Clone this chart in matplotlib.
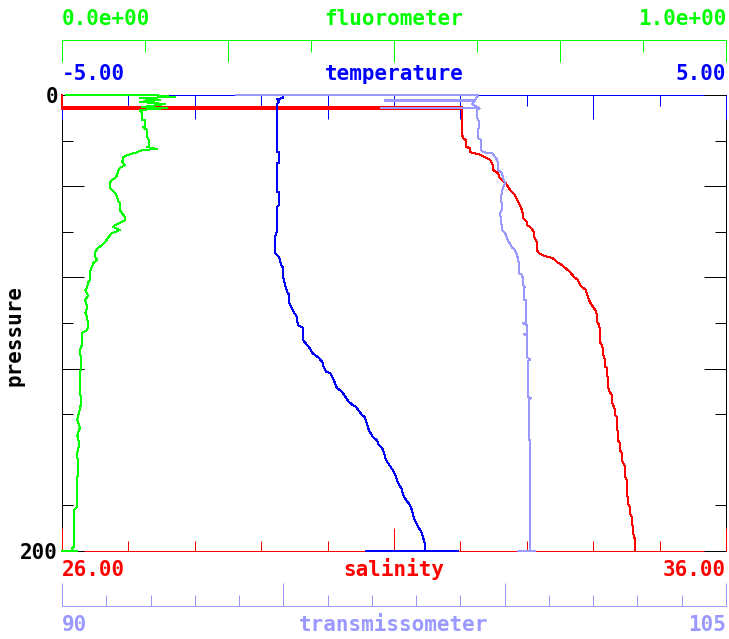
import numpy as np
import matplotlib
matplotlib.use("Agg")
import matplotlib.pyplot as plt

# --- profile data (pressure, value) ---
temp_prof = [(0, -1.67), (1.3, -1.67), (1.8, -1.76), (3.1, -1.73), (3.9, -1.76), (5.7, -1.76),
             (25.0, -1.76), (25.0, -1.73), (29.8, -1.73), (29.8, -1.76), (42.5, -1.76), (42.5, -1.73),
             (48.2, -1.73), (49.1, -1.76), (59.2, -1.76), (62.3, -1.79), (69.3, -1.79), (69.7, -1.78),
             (71.1, -1.73), (74.6, -1.70), (75.9, -1.67), (79.8, -1.67), (83.3, -1.64), (86.4, -1.61),
             (87.7, -1.58), (91.2, -1.58), (93.0, -1.55), (95.2, -1.51), (97.4, -1.46), (100.9, -1.45),
             (101.8, -1.39), (102.2, -1.37), (107.5, -1.37), (109.6, -1.31), (111.0, -1.27), (113.2, -1.23),
             (114.5, -1.17), (115.4, -1.13), (117.1, -1.08), (118.4, -1.07), (121.5, -1.02), (121.9, -0.96),
             (123.7, -0.93), (126.3, -0.89), (128.5, -0.86), (129.8, -0.80), (130.7, -0.77), (132.9, -0.72),
             (134.6, -0.68), (136.0, -0.62), (136.8, -0.57), (138.2, -0.54), (140.4, -0.48), (141.2, -0.44),
             (143.9, -0.41), (146.9, -0.38), (150.0, -0.32), (151.3, -0.26), (153.5, -0.23), (154.8, -0.18),
             (157.0, -0.15), (160.1, -0.12), (161.4, -0.09), (163.2, -0.05), (165.4, 0.00), (167.5, 0.03),
             (170.2, 0.06), (172.4, 0.11), (175.4, 0.14), (177.6, 0.18), (179.4, 0.23), (182.0, 0.27),
             (185.5, 0.30), (188.6, 0.35), (191.7, 0.41), (194.3, 0.44), (197.4, 0.47), (200, 0.47),
             (200, 0.96), (200, -0.42)]

sal_prof = [(0, 26.0), (5.3, 26.0), (5.3, 32.02), (5.7, 32.02), (5.7, 26.0), (6.1, 26.0),
            (6.1, 32.02), (16.7, 32.02), (18.9, 32.04), (19.7, 32.08),
            (22.8, 32.08), (23.2, 32.14), (25.0, 32.14), (25.4, 32.19), (25.9, 32.27), (26.8, 32.33),
            (27.6, 32.39), (28.5, 32.45), (30.7, 32.49), (32.9, 32.49), (33.8, 32.55), (35.1, 32.58),
            (36.0, 32.58), (37.3, 32.63), (38.2, 32.67), (39.5, 32.70), (41.7, 32.75), (43.9, 32.82),
            (46.9, 32.87), (49.1, 32.91), (51.8, 32.94), (53.9, 32.94), (55.7, 33.00), (57.0, 33.00),
            (57.9, 33.05), (60.1, 33.11), (62.3, 33.11), (64.5, 33.15), (68.0, 33.15), (69.3, 33.18),
            (70.2, 33.24), (71.1, 33.32), (71.5, 33.39), (73.2, 33.45), (74.6, 33.53), (75.9, 33.58),
            (77.6, 33.65), (79.8, 33.71), (81.1, 33.77), (83.3, 33.80), (84.2, 33.83), (85.5, 33.89),
            (87.7, 33.91), (90.8, 33.95), (92.1, 33.98), (94.3, 34.03), (96.5, 34.06), (99.6, 34.06),
            (100.9, 34.09), (103.1, 34.10), (108.3, 34.10), (109.6, 34.13), (111.8, 34.15), (114.0, 34.15),
            (116.2, 34.18), (119.3, 34.18), (119.7, 34.21), (122.8, 34.21), (123.7, 34.22), (128.1, 34.22),
            (130.3, 34.25), (131.6, 34.28), (134.6, 34.28), (136.0, 34.30), (138.2, 34.33), (140.4, 34.33),
            (141.2, 34.36), (146.1, 34.36), (148.2, 34.37), (151.3, 34.37), (152.6, 34.40), (155.7, 34.40),
            (157.0, 34.43), (160.1, 34.43), (161.0, 34.45), (163.2, 34.48), (167.5, 34.48), (168.9, 34.51),
            (174.6, 34.51), (176.8, 34.52), (178.9, 34.52), (180.7, 34.55), (183.3, 34.55), (185.1, 34.58),
            (187.7, 34.58), (189.5, 34.60), (192.1, 34.60), (193.0, 34.61), (195.2, 34.63), (200, 34.63)]

fluor_prof = [(0, 0.006), (0, 0.137), (0.9, 0.170), (1.3, 0.117), (2.2, 0.148), (3.0, 0.117),
              (4.0, 0.155), (5.3, 0.120), (5.7, 0.158), (6.6, 0.117), (7.5, 0.120), (11.0, 0.120),
              (11.0, 0.125), (14.0, 0.125), (14.0, 0.122), (15.4, 0.128), (18.4, 0.128), (19.7, 0.131),
              (22.8, 0.131), (22.8, 0.128), (23.7, 0.143), (24.1, 0.122), (25.4, 0.110), (26.3, 0.099),
              (27.2, 0.092), (28.5, 0.092), (29.4, 0.090), (30.7, 0.095), (32.0, 0.087), (33.8, 0.084),
              (35.1, 0.083), (36.4, 0.080), (37.3, 0.075), (38.6, 0.072), (40.8, 0.072), (41.7, 0.075),
              (43.0, 0.080), (44.7, 0.083), (46.1, 0.084), (47.4, 0.087), (50.4, 0.087), (51.8, 0.090),
              (53.5, 0.095), (54.8, 0.095), (55.7, 0.090), (57.0, 0.080), (57.9, 0.077), (59.2, 0.087),
              (60.1, 0.080), (60.5, 0.075), (62.7, 0.069), (64.5, 0.065), (65.8, 0.060), (67.1, 0.054),
              (68.9, 0.050), (71.1, 0.050), (72.4, 0.053), (73.7, 0.047), (75.4, 0.045), (77.6, 0.042),
              (81.1, 0.042), (82.5, 0.039), (84.6, 0.038), (85.5, 0.035), (88.0, 0.039), (90.0, 0.035),
              (93.0, 0.038), (95.6, 0.035), (97.4, 0.038), (100.9, 0.039), (103.1, 0.038), (104.4, 0.030),
              (109.6, 0.030), (112.0, 0.027), (117.5, 0.029), (123.0, 0.027), (129.4, 0.027), (135.0, 0.029),
              (142.5, 0.023), (146.0, 0.027), (149.1, 0.023), (153.0, 0.026), (157.0, 0.023), (164.5, 0.024),
              (168.9, 0.023), (175.4, 0.023), (180.7, 0.023), (182.0, 0.018), (190.8, 0.018), (198.2, 0.018),
              (198.7, 0.015), (200, 0.015), (200, 0.0), (200, 0.023)]

trans_prof = [(0, 93.93), (0, 99.40), (2.2, 99.33), (2.2, 97.30), (2.6, 97.30), (2.6, 99.33),
              (4.0, 99.26), (5.5, 99.40), (5.5, 97.21), (5.9, 97.21), (5.9, 99.44), (6.6, 99.37),
              (9.6, 99.37), (11.8, 99.42), (14.0, 99.42), (15.4, 99.40), (18.9, 99.40), (19.7, 99.46),
              (24.1, 99.46), (25.0, 99.51), (25.4, 99.60), (25.4, 99.71), (27.2, 99.78), (28.5, 99.83),
              (29.8, 99.85), (32.9, 99.85), (34.2, 99.94), (36.4, 99.96), (38.6, 100.01), (40.8, 99.96),
              (42.5, 99.94), (44.7, 99.92), (50.0, 99.94), (52.0, 99.90), (56.1, 99.92), (57.9, 99.94),
              (59.2, 99.94), (60.5, 100.01), (63.6, 100.07), (66.7, 100.16), (68.0, 100.23), (70.2, 100.28),
              (73.7, 100.32), (78.1, 100.32), (78.9, 100.39), (80.3, 100.41), (83.3, 100.41), (84.2, 100.46),
              (84.2, 100.44), (89.9, 100.44), (89.9, 100.48), (100.0, 100.48), (100.0, 100.41), (100.8, 100.48),
              (100.9, 100.50), (105.0, 100.50), (105.0, 100.44), (105.5, 100.50), (114.9, 100.50),
              (116.0, 100.57), (116.5, 100.53), (132.5, 100.53), (133.0, 100.59), (133.5, 100.55),
              (151.3, 100.55), (151.3, 100.57), (198.2, 100.57), (200, 100.57), (200, 100.30), (200, 100.68)]

# colours of the four variables
c_temp = "#0000ff"
c_sal = "#ff0000"
c_fluor = "#00ff00"
c_trans = "#9999ff"

plt.rcParams["font.family"] = ["DejaVu Sans Mono"]
plt.rcParams["font.weight"] = "bold"
FS = 15

W, H = 729, 639
rect = [62 / W, 88 / H, 664 / W, 456 / H]
PX = 0.72  # one pixel in points at dpi 100

fig = plt.figure(figsize=(W / 100, H / 100), dpi=100)


def bare(ax, xlim):
    ax.set_xlim(*xlim)
    ax.set_ylim(200, 0)
    ax.set_facecolor("none")
    for sp in ax.spines.values():
        sp.set_visible(False)
        sp.set_zorder(1)
        sp.set_linewidth(PX)
    ax.tick_params(axis="both", which="both", left=False, right=False, top=False, bottom=False,
                   labelleft=False, labelright=False, labeltop=False, labelbottom=False)


# salinity axis (bottom) + black side frame
ax_s = fig.add_axes(rect)
bare(ax_s, (26, 36))
ax_s.set_facecolor("white")
ax_s.spines["bottom"].set_visible(True)
ax_s.spines["bottom"].set_color(c_sal)
for side in ["left", "right"]:
    ax_s.spines[side].set_visible(True)
    ax_s.spines[side].set_color("black")
ax_s.set_xticks([26, 31, 36])
ax_s.set_xticks(np.arange(26, 37, 1), minor=True)
ax_s.tick_params(axis="x", which="both", bottom=True, direction="in", color=c_sal, width=PX)
ax_s.tick_params(axis="x", which="major", length=23 * PX)
ax_s.tick_params(axis="x", which="minor", length=10 * PX)

# fluorometer axis (detached, above)
ax_f = fig.add_axes(rect)
bare(ax_f, (0, 1))
ax_f.spines["top"].set_visible(True)
ax_f.spines["top"].set_position(("outward", 55 * PX))
ax_f.spines["top"].set_color(c_fluor)
ax_f.xaxis.set_ticks_position("top")
ax_f.set_xticks([0, 0.25, 0.5, 0.75, 1.0])
ax_f.set_xticks(np.arange(0, 1.01, 0.125), minor=True)
ax_f.tick_params(axis="x", which="both", top=True, bottom=False, labeltop=False,
                 direction="in", color=c_fluor, width=PX)
ax_f.tick_params(axis="x", which="major", length=22 * PX)
ax_f.tick_params(axis="x", which="minor", length=12 * PX)

# transmissometer axis (detached, below)
ax_tr = fig.add_axes(rect)
bare(ax_tr, (90, 105))
ax_tr.spines["bottom"].set_visible(True)
ax_tr.spines["bottom"].set_position(("outward", 55 * PX))
ax_tr.spines["bottom"].set_color(c_trans)
ax_tr.set_xticks([90, 95, 100, 105])
ax_tr.set_xticks(np.arange(90, 106, 1), minor=True)
ax_tr.tick_params(axis="x", which="both", bottom=True, direction="in", color=c_trans, width=PX)
ax_tr.tick_params(axis="x", which="major", length=23 * PX)
ax_tr.tick_params(axis="x", which="minor", length=11 * PX)

# temperature axis (top of the frame)
ax_t = fig.add_axes(rect)
bare(ax_t, (-5, 5))
ax_t.spines["top"].set_visible(True)
ax_t.spines["top"].set_color(c_temp)
ax_t.xaxis.set_ticks_position("top")
ax_t.set_xticks([-5, -3, -1, 1, 3, 5])
ax_t.set_xticks(np.arange(-4, 5, 2), minor=True)
ax_t.tick_params(axis="x", which="both", top=True, bottom=False, labeltop=False,
                 direction="in", color=c_temp, width=PX)
ax_t.tick_params(axis="x", which="major", length=24 * PX)
ax_t.tick_params(axis="x", which="minor", length=11 * PX)

# pressure ticks, both sides
ax_p = fig.add_axes(rect)
bare(ax_p, (0, 1))
ax_p.set_yticks([0, 40, 80, 120, 200], ["0", "", "", "", "200"])
ax_p.set_yticks([20, 60, 100, 140, 180], minor=True)
ax_p.tick_params(axis="y", which="both", left=True, right=True, labelleft=True,
                 direction="in", color="black", width=PX, pad=4 * PX, labelsize=FS)
ax_p.tick_params(axis="y", which="major", length=22 * PX)
ax_p.tick_params(axis="y", which="minor", length=11 * PX)

# profiles, each on its own scale; light blue drawn last
for prof, lim, col in [(sal_prof, (26, 36), c_sal),
                       (temp_prof, (-5, 5), c_temp),
                       (fluor_prof, (0, 1), c_fluor),
                       (trans_prof, (90, 105), c_trans)]:
    axl = fig.add_axes(rect)
    bare(axl, lim)
    axl.axis("off")
    arr = np.array(prof)
    axl.plot(arr[:, 1], arr[:, 0], color=col, lw=PX, clip_on=False, antialiased=False)

# axis end labels and names
xl, xc, xr = 62 / W, 394 / W, 726 / W
rows = [(25, c_fluor, "0.0e+00", "fluorometer", "1.0e+00"),
        (80, c_temp, "-5.00", "temperature", "5.00"),
        (576, c_sal, "26.00", "salinity", "36.00"),
        (631, c_trans, "90", "transmissometer", "105")]
for ybase, col, lo, name, hi in rows:
    yy = 1 - ybase / H
    fig.text(xl, yy, lo, color=col, ha="left", va="baseline", fontsize=FS)
    fig.text(xc, yy, name, color=col, ha="center", va="baseline", fontsize=FS)
    fig.text(xr, yy, hi, color=col, ha="right", va="baseline", fontsize=FS)

fig.text(15 / W, 1 - 335 / H, "pressure", rotation=90, ha="center", va="center",
         fontsize=FS, color="black")

fig.savefig("out.png", dpi=100)
